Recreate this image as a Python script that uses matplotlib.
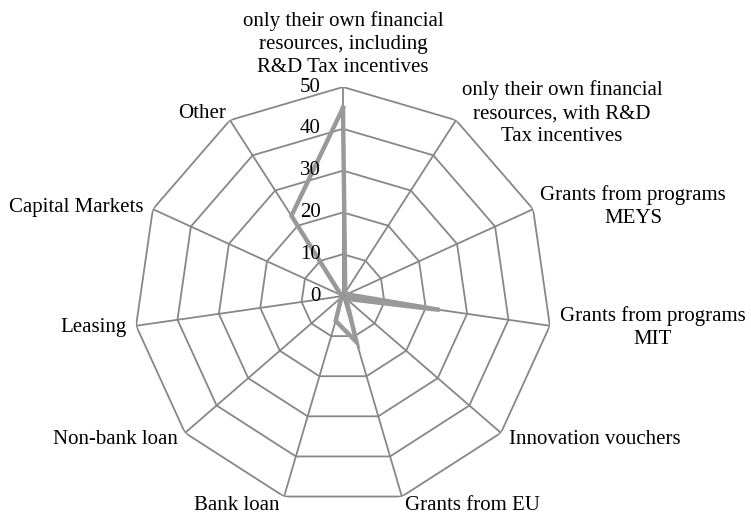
import numpy as np
import matplotlib
matplotlib.use("Agg")
import matplotlib.pyplot as plt

plt.rcParams["font.family"] = ["Liberation Serif", "DejaVu Serif"]

categories = [
    "only their own financial\nresources, including\nR&D Tax incentives",
    "only their own financial\nresources, with R&D\nTax incentives",
    "Grants from programs\nMEYS",
    "Grants from programs\nMIT",
    "Innovation vouchers",
    "Grants from EU",
    "Bank loan",
    "Non-bank loan",
    "Leasing",
    "Capital Markets",
    "Other",
]
values = [45, 1, 1, 23.4, 1, 11.5, 6.2, 0.5, 0.3, 0.5, 22.8]
levels = [0, 10, 20, 30, 40, 50]

# label placement (offset in points from the outer vertex, alignment)
label_pos = [
    ((0, 7), "center", "bottom"),
    ((4, 5), "left", "center"),
    ((5, 2), "left", "center"),
    ((7, -1.5), "left", "center"),
    ((6, -5), "left", "center"),
    ((2, -6.5), "left", "center"),
    ((-3, -6.5), "right", "center"),
    ((-5, -5), "right", "center"),
    ((-6.5, -1), "right", "center"),
    ((-6.5, 1.5), "right", "center"),
    ((-3, 4.5), "right", "center"),
]

GRID = "#878787"
LINE = "#999999"
FS = 15

n = len(categories)
theta = np.arange(n) * 2 * np.pi / n
theta_c = np.append(theta, theta[0])

fig = plt.figure(figsize=(7.51, 5.16), dpi=100)
ax = fig.add_axes([0.1784, 0.0213, 0.5566, 0.8101], projection="polar")
ax.set_theta_zero_location("N")
ax.set_theta_direction(-1)
ax.set_ylim(0, levels[-1])
ax.grid(False)
ax.spines["polar"].set_visible(False)
ax.set_xticks([])
ax.set_yticks([])
ax.patch.set_visible(False)

# polygon grid and spokes
for lv in levels[1:]:
    ax.plot(theta_c, [lv] * (n + 1), color=GRID, lw=1.3, zorder=1)
for t in theta:
    ax.plot([t, t], [0, levels[-1]], color=GRID, lw=1.3, zorder=1)

# data series
vals_c = values + values[:1]
ax.plot(theta_c, vals_c, color=LINE, lw=3.2, solid_joinstyle="miter", zorder=3)

# radial tick labels
for lv in levels:
    ax.annotate(str(lv), xy=(0, lv), xytext=(-16, 0), textcoords="offset points",
                ha="right", va="center", fontsize=FS, zorder=4)

# category labels
for t, lab, (off, ha, va) in zip(theta, categories, label_pos):
    ax.annotate(lab, xy=(t, levels[-1]), xytext=off, textcoords="offset points",
                ha=ha, va=va, multialignment="center", fontsize=FS,
                linespacing=1.3, annotation_clip=False)

fig.savefig("out.png", dpi=100)
